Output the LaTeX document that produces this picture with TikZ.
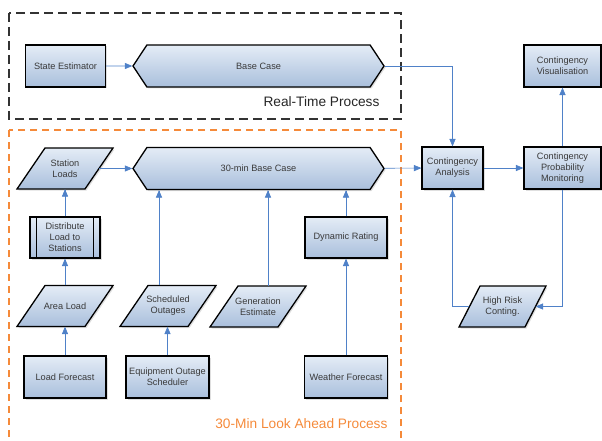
\documentclass[tikz,border=0pt]{standalone}
\usepackage{fontspec}
\setmainfont{Liberation Sans}
\usetikzlibrary{arrows,shapes.symbols,shadows}
\definecolor{boxtop}{HTML}{E4ECF6}
\definecolor{boxbot}{HTML}{A9BFDC}
\definecolor{flowblue}{HTML}{4F81C8}
\definecolor{lookorange}{HTML}{F58A3A}
\definecolor{txtgray}{HTML}{3A3A3A}
% slanted data box: [slant]{name}{centre}{total width}{text}
\newcommand{\datanode}[5][28]{%
    \draw[dataproc] (#3) ++(-#4/2,20.5) -- ++(#4-#1,0) -- ++(#1,-41) -- ++(-#4+#1,0) -- cycle;
    \node[datatext,minimum width=#4-#1] (#2) at (#3) {#5};}

\begin{document}
\begin{tikzpicture}[x=1pt,y=-1pt,
    font=\fontsize{9.2}{11}\selectfont,
    dataproc/.style={draw=black,line width=1.3pt,top color=boxtop,bottom color=boxbot,
        drop shadow={opacity=0.25,shadow xshift=1.5pt,shadow yshift=-1.5pt}},
    datatext/.style={text=txtgray,align=center,inner sep=0pt,minimum height=41},
    proc/.style={dataproc,text=txtgray,align=center,inner sep=1pt},
    procbox/.style={proc,rectangle,minimum width=#1,minimum height=42},
    hexbox/.style={proc,signal,signal to=east and west,signal pointer angle=113,
        minimum width=251,minimum height=42},
    flow/.style={->,>=triangle 45,flowblue,line width=0.7pt}]
    \useasboundingbox (0,0) rectangle (602,441);

    % process frames
    \draw[line width=1.8pt,black!80,dash pattern=on 9pt off 5pt] (9,13) rectangle (401,119);
    \draw[line width=1.8pt,lookorange,dash pattern=on 7pt off 5pt] (9,130) rectangle (401,460);
    \node[anchor=east,font=\fontsize{13.7}{16}\selectfont,text=black!85] (rtlabel) at (383,102) {Real-Time Process};
    \node[anchor=east,font=\fontsize{13.7}{16}\selectfont,text=lookorange] (lalabel) at (391,424) {30-Min Look Ahead Process};

    % real-time row
    \node[procbox=80] (state) at (65.5,66) {State Estimator};
    \node[hexbox] (base) at (258.5,66) {Base Case};

    % look ahead part
    \datanode{stload}{65,168.5}{96}{Station\\Loads}
    \node[hexbox] (base30) at (258.5,168.5) {30-min Base Case};
    \node[procbox=70,minimum height=41] (dist) at (65,237.5) {Distribute\\Load to\\Stations};
    \draw[line width=1.3pt] ([xshift=7]dist.north west) -- ([xshift=7]dist.south west);
    \draw[line width=1.3pt] ([xshift=-7]dist.north east) -- ([xshift=-7]dist.south east);
    \node[procbox=82,minimum height=41] (dyn) at (346,237.5) {Dynamic Rating};
    \datanode{area}{65,306}{96}{Area Load}
    \datanode{sched}{168,306}{96}{Scheduled\\Outages}
    \datanode{gen}{258,306.5}{96}{Generation\\Estimate}
    \node[procbox=82] (loadf) at (65,377) {Load Forecast};
    \node[procbox=83] (eqsched) at (167.5,377) {Equipment Outage\\Scheduler};
    \node[procbox=83] (weather) at (346,377) {Weather Forecast};

    % contingency part
    \node[procbox=61] (conta) at (452.5,168) {Contingency\\Analysis};
    \node[procbox=77] (contpm) at (562.5,168) {Contingency\\Probability\\Monitoring};
    \node[procbox=77] (contvis) at (562.5,66) {Contingency\\Visualisation};
    \datanode[21]{highrisk}{502.5,306.5}{87}{High Risk\\Conting.}

    % connectors
    \draw[flow] (state) -- (base);
    \draw[flow] (base.east) -| (conta.north);
    \draw[flow] (stload) -- (base30);
    \draw[flow] (base30) -- (conta);
    \draw[flow] (conta) -- (contpm);
    \draw[flow] (contpm) -- (contvis);
    \draw[flow] (contpm.south) |- (highrisk.east);
    \draw[flow] (highrisk.west) -| (conta.south);
    \draw[flow] (dist) -- (stload);
    \draw[flow] (area) -- (dist);
    \draw[flow] (loadf) -- (area);
    \draw[flow] (eqsched.north) -- (eqsched.north |- sched.south);
    \draw[flow] ([xshift=-9]sched.north) -- ([xshift=-9]sched.north |- base30.south);
    \draw[flow] ([xshift=10]gen.north) -- ([xshift=10]gen.north |- base30.south);
    \draw[flow] (dyn.north) -- (dyn.north |- base30.south);
    \draw[flow] (weather) -- (dyn);
\end{tikzpicture}
\end{document}
